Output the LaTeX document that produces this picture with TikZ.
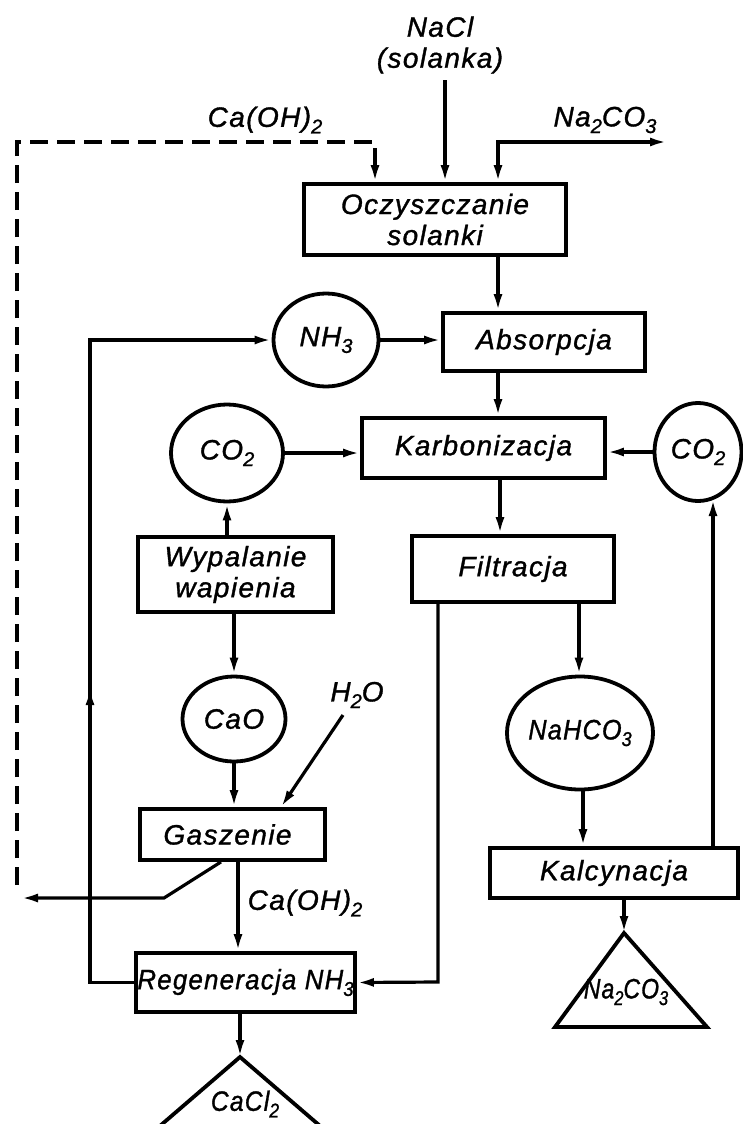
\documentclass[tikz,border=0pt]{standalone}
\usepackage{fontspec}
\setmainfont{Liberation Sans}[LetterSpace=5,FakeBold=1.2]
\usetikzlibrary{arrows.meta,shapes.geometric,calc}
\newcommand\sbs[1]{\raisebox{-0.45ex}{\fontsize{20}{20}\selectfont #1}}
\begin{document}
\begin{tikzpicture}[x=1pt,y=-1pt,
  every node/.style={font=\fontsize{28}{31}\selectfont\itshape},
  box/.style={draw,line width=3.8pt,rectangle,inner sep=0pt,align=center},
  ell/.style={draw,line width=3.8pt,ellipse,inner sep=0pt},
  ln/.style={line width=3.2pt},
  arr/.style={ln,-{Latex[length=17pt,width=9pt]}},
  lbl/.style={align=center,inner sep=0pt}]
\useasboundingbox (0,0) rectangle (743,1124);
\clip (0,0) rectangle (743,1124);
% boxes
\node[box,minimum width=262pt,minimum height=71pt] (ocz) at (435,219.5) {Oczyszczanie\\solanki};
\node[box,minimum width=202pt,minimum height=58pt] (abs) at (544,342) {Absorpcja};
\node[box,minimum width=243pt,minimum height=60pt] (karb) at (483.5,448) {Karbonizacja};
\node[box,minimum width=202pt,minimum height=66pt] (filt) at (513,569) {Filtracja};
\node[box,minimum width=195pt,minimum height=75pt] (wyp) at (235.5,574.5) {Wypalanie\\wapienia};
\node[box,minimum width=185pt,minimum height=51pt] (gasz) at (232.5,834.5) {Gaszenie\hspace{10pt}};
\node[box,minimum width=219pt,minimum height=59pt] (reg) at (245.5,982.5) {\scalebox{0.92}[1]{Regeneracja NH\sbs{3}}};
\node[box,minimum width=248pt,minimum height=50pt] (kalc) at (614,873) {Kalcynacja};
% circles
\node[ell,minimum width=105pt,minimum height=93pt] (nh3) at (326,340) {NH\sbs{3}};
\node[ell,minimum width=112pt,minimum height=97pt] (co2L) at (227,453) {CO\sbs{2}};
\node[ell,minimum width=87pt,minimum height=98pt] (co2R) at (698,452) {CO\sbs{2}};
\node[ell,minimum width=103pt,minimum height=85pt] (cao) at (234,719) {CaO};
\node[ell,minimum width=126pt,minimum height=113pt] (nahco3) at (580,733) {\scalebox{0.9}[1]{NaHCO\sbs{3}}};
% triangles
\coordinate (tA) at (624,933);
\draw[line width=3.8pt,line join=miter] (tA) -- (707,1027) -- (555,1027) -- cycle;
\node[lbl] (na2co3) at (626,992) {\scalebox{0.82}[1]{Na\sbs{2}CO\sbs{3}}};
\coordinate (tB) at (240,1057);
\draw[line width=3.8pt] (tB) -- (348,1150) -- (132,1150) -- cycle;
\node[lbl] (cacl2) at (245,1104) {\scalebox{0.88}[1]{CaCl\sbs{2}}};
% labels
\node[lbl] (nacl) at (440,45) {NaCl\\(solanka)};
\node[lbl] (caoh2top) at (265,120) {Ca(OH)\sbs{2}};
\node[lbl] (na2co3top) at (605,120) {Na\sbs{2}CO\sbs{3}};
\node[lbl] (h2o) at (357,695) {H\sbs{2}O};
\node[lbl] (caoh2bot) at (305,903) {Ca(OH)\sbs{2}};
% connectors
\coordinate (naclin) at (445,80);
\draw[arr] (naclin) -- (445,0 |- ocz.north);
\draw[arr,dash pattern=on 18pt off 9pt] (17,885) -- (17,142) -- (375,142) -- (375,0 |- ocz.north);
\draw[ln,{Latex[length=17pt,width=9pt]}-{Latex[length=17pt,width=9pt]}] (667,142) -- (498,142) -- (498,0 |- ocz.north);
\draw[arr] (498,0 |- ocz.south) -- (498,0 |- abs.north);
\draw[arr] (nh3.east) -- (abs.west |- nh3.east);
\draw[arr] (498,0 |- abs.south) -- (498,0 |- karb.north);
\draw[arr] (co2L.east) -- (karb.west |- co2L.east);
\draw[arr] (co2R.west) -- (karb.east |- co2R.west);
\draw[arr] (500,0 |- karb.south) -- (500,0 |- filt.north);
\draw[arr] (wyp.north -| co2L.south) -- (co2L.south);
\draw[arr] (wyp.south -| cao.north) -- (cao.north);
\draw[arr] (cao.south) -- (cao.south |- gasz.north);
\coordinate (h2oin) at (343,715);
\draw[arr] (h2oin) -- (281,0 |- gasz.north);
\draw[arr] (221,0 |- gasz.south) -- (164,898) -- (21,898);
\draw[arr] (238,0 |- gasz.south) -- (238,0 |- reg.north);
\draw[arr] (reg.west) -- (90,0 |- reg.west) -- (90,340) -- (nh3.west);
\draw[arr] (90,730) -- (90,688);
\draw[arr] (438,0 |- filt.south) -- (438,982) -- (reg.east);
\draw[arr] (579,0 |- filt.south) -- (579,0 |- nahco3.north);
\draw[arr] (583,0 |- nahco3.south) -- (583,0 |- kalc.north);
\draw[arr] (713,0 |- kalc.north) -- (713,499);
\draw[arr] (624,0 |- kalc.south) -- (tA);
\draw[arr] (240,0 |- reg.south) -- (tB);
\end{tikzpicture}
\end{document}
